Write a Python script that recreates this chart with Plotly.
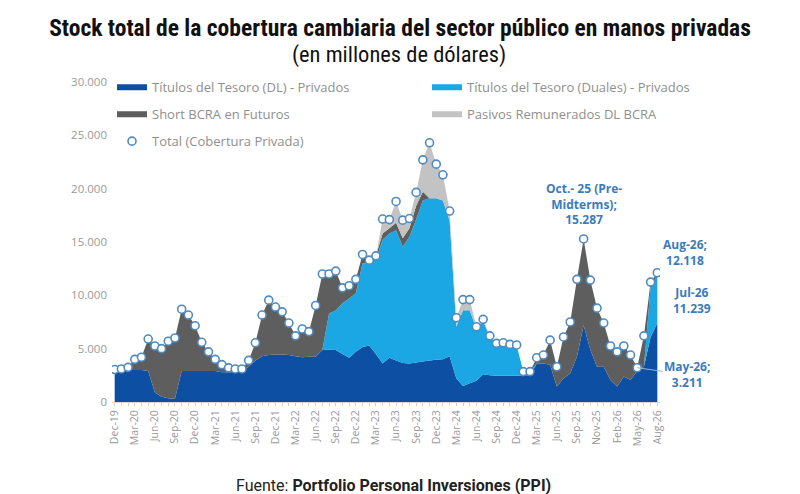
import plotly.graph_objects as go

# meses (hay dos puntos en Oct-25: pre y post elecciones)
MES = ["Jan", "Feb", "Mar", "Apr", "May", "Jun", "Jul", "Aug", "Sep", "Oct", "Nov", "Dec"]
months = (["Dec-19"]
          + [f"{m}-{y}" for y in range(20, 25) for m in MES]
          + [f"{m}-25" for m in MES[:9]]
          + ["Oct-25 (Pre-Midterms)", "Oct-25", "Nov-25", "Dec-25"]
          + [f"{m}-26" for m in MES[:8]])

# millones de USD
dl = [3000, 3000, 3000, 3000, 3000, 2900, 900, 500, 350, 300,
      2900, 2900, 2900, 2900, 2900, 2900, 2800, 2800, 2800, 2850,
      3300, 3900, 4300, 4400, 4450, 4450, 4400, 4300, 4200, 4250,
      4250, 4870, 4900, 4870, 4500, 4150, 4700, 5150, 5300, 4500,
      3600, 4150, 3900, 3650, 3600, 3700, 3800, 3900, 3950, 4000,
      4300, 2200, 1500, 1750, 2000, 2600, 2500, 2450, 2450, 2450,
      2450, 2500, 2500, 3600, 3600, 3500, 1450, 2200, 2700, 4250,
      7200, 4900, 3300, 3300, 2060, 1450, 2400, 2060, 2900, 3300,
      6100, 7400]

duales = [0] * 32 + [
    3400, 3700, 4750, 5550, 5500, 7850, 7700, 8900,
    11600, 11650, 12200, 10900, 11900, 13400, 15100, 15200, 15150, 14900,
    12700, 4850, 7100, 6850, 4900, 5000, 3600, 3000, 3050, 2900,
    2850, 350, 350] + [0] * 17 + [4700, 4500]

short_bcra = [50, 100, 250, 1000, 1200, 3000, 4350, 4500, 5350, 5700,
              5800, 5250, 4250, 2700, 1800, 1100, 700, 400, 300, 250,
              600, 1650, 3850, 5150, 4450, 4000, 3000, 1900, 2650, 2350,
              4800, 7130, 3700, 3700, 1450, 1200, 1300, 830, 300, 300,
              600, 500, 700, 800, 800, 1300, 800, 0, 0, 0,
              0, 0, 0, 0, 0, 0, 0, 0, 0, 0,
              0, 0, 0, 550, 800, 2300, 1850, 3900, 4800, 7250,
              8087, 6530, 5500, 4100, 3190, 3250, 2850, 2340, 311, 2900,
              439, 218]

pasivos = [0] * 40 + [
    1350, 800, 2000, 1700, 900, 1250, 3000, 5200, 3200, 2400,
    900, 850, 1000, 1000, 150, 150, 100, 50, 50, 50,
    50] + [0] * 21

total = [a + b + c + d for a, b, c, d in zip(dl, duales, short_bcra, pasivos)]

tick_text = [m if i % 3 == 0 else "" for i, m in enumerate(months)]
tick_text[70] = ""


def fmt(v):
    return f"{v:,}".replace(",", ".")


NARROW = "Liberation Sans Narrow, Roboto Condensed, DejaVu Sans Condensed, Arial Narrow"
# la página deja 8px de margen en el body: la figura va un poco más chica
W, H = 792, 486

fig = go.Figure()

series = [
    ("Títulos del Tesoro (DL) - Privados", dl, "#0d4fa3", "legend"),
    ("Títulos del Tesoro (Duales) - Privados", duales, "#1ba6e4", "legend2"),
    ("Short BCRA en Futuros", short_bcra, "#5e5e5e", "legend"),
    ("Pasivos Remunerados DL BCRA", pasivos, "#c3c3c3", "legend2"),
]
for name, vals, color, leg in series:
    fig.add_trace(go.Scatter(
        x=months, y=vals, name=name, stackgroup="one", mode="none",
        fillcolor=color, hoverinfo="x+y+name", legend=leg, legendgroup=name))

fig.add_trace(go.Scatter(
    x=months, y=total, name="Total (Cobertura Privada)", mode="markers",
    legend="legend", legendgroup="total",
    marker=dict(symbol="circle", size=8, color="white",
                line=dict(color="#4f8ac0", width=1.6))))

lbl = dict(family="Open Sans, Arial", size=12, color="#3a7bbd")
fig.add_annotation(x=months[70], y=total[70], text="<b>Oct.- 25 (Pre-<br>Midterms);<br>" + fmt(total[70]) + "</b>",
                   showarrow=False, yanchor="bottom", yshift=9, font=lbl)
fig.add_annotation(x=months[81], y=total[81], text="<b>Aug-26;<br>" + fmt(total[81]) + "</b>",
                   showarrow=False, xshift=28, yshift=20, font=lbl)
fig.add_annotation(x=months[80], y=total[80], text="<b>Jul-26<br>" + fmt(total[80]) + "</b>",
                   showarrow=False, xshift=41, yshift=-18, font=lbl)
fig.add_annotation(x=months[78], y=total[78], text="<b>May-26;<br>" + fmt(total[78]) + "</b>",
                   showarrow=True, arrowhead=0, arrowwidth=1, arrowcolor="#8fb6d6",
                   ax=50, ay=7, font=lbl)

fig.add_annotation(x=0.523, y=1 + 28 / 320, xref="paper", yref="paper", yanchor="middle",
                   showarrow=False, text="(en millones de dólares)",
                   font=dict(family=NARROW, size=22.5, color="#111111"))
fig.add_annotation(x=0.513, y=-83 / 320, xref="paper", yref="paper", yanchor="middle",
                   showarrow=False, text="Fuente: <b>Portfolio Personal Inversiones (PPI)</b>",
                   font=dict(family="Roboto, Arial", size=16, color="#222222"))

leg_font = dict(family="Open Sans, Arial", size=13, color="#8f8f8f")
fig.update_layout(
    width=W, height=H,
    margin=dict(l=104, r=140, t=74, b=92, autoexpand=False),
    title=dict(text="<b>Stock total de la cobertura cambiaria del sector público en manos privadas</b>",
               x=392 / W, xanchor="center", y=1 - 20 / H, yanchor="middle",
               font=dict(family=NARROW, size=23.5, color="#111111")),
    plot_bgcolor="white", paper_bgcolor="white",
    separators=",.",
    legend=dict(xref="container", x=104 / W, y=1.03, xanchor="left", yanchor="top",
                itemwidth=30, traceorder="grouped", tracegroupgap=7,
                font=leg_font, bgcolor="rgba(0,0,0,0)"),
    legend2=dict(xref="container", x=419 / W, y=1.03, xanchor="left", yanchor="top",
                 itemwidth=30, traceorder="grouped", tracegroupgap=7,
                 font=leg_font, bgcolor="rgba(0,0,0,0)"),
)

fig.update_xaxes(type="category", range=[-0.4, 81.4], tickmode="array",
                 tickvals=months, ticktext=tick_text, tickangle=-90,
                 ticks="outside", ticklen=3, tickcolor="#d0d0d0", automargin=False,
                 showline=True, linecolor="#d9d9d9", showgrid=False,
                 tickfont=dict(family="Open Sans, Arial", size=10.5, color="#9a9a9a"))
fig.update_yaxes(range=[0, 30000], dtick=5000, tickformat=",d", showgrid=False,
                 zeroline=False, ticks="", ticklabelstandoff=4, automargin=False,
                 tickfont=dict(family="Open Sans, Arial", size=11.5, color="#9a9a9a"))

fig.write_html("out.html")
